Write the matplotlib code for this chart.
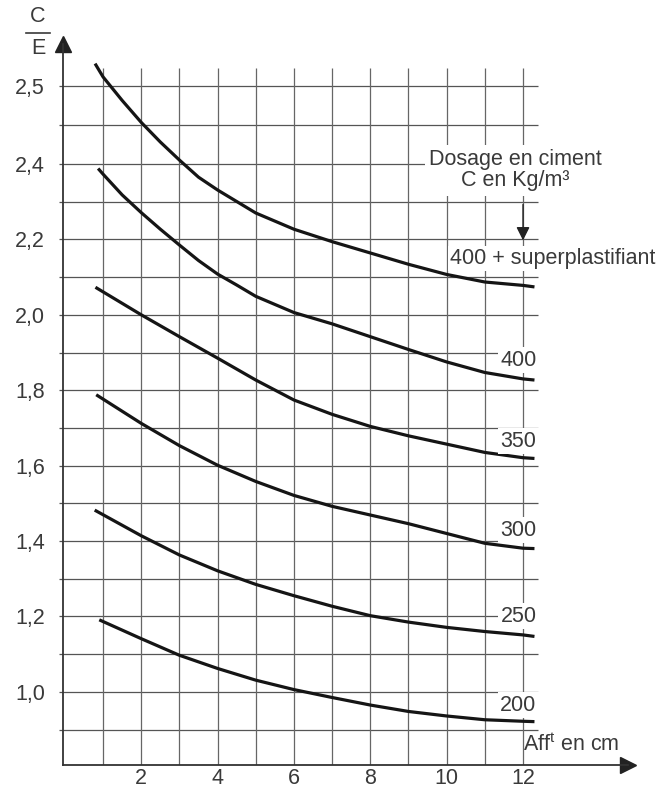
"""Rapport C/E en fonction de l'affaissement, pour plusieurs dosages en ciment"""

import numpy as np
import matplotlib
matplotlib.use("Agg")
import matplotlib.pyplot as plt
from matplotlib.lines import Line2D

# affaissement (cm) et C/E lus sur chaque courbe
x_400sp = [0.79, 1, 1.5, 2, 2.5, 3, 3.5, 4, 5, 6, 7, 8, 9, 10, 11, 12, 12.3]
y_400sp = [2.528, 2.511, 2.481, 2.453, 2.428, 2.405, 2.365, 2.331, 2.27, 2.227,
           2.194, 2.164, 2.134, 2.107, 2.087, 2.078, 2.074]

x_400 = [0.87, 1, 1.5, 2, 2.5, 3, 3.5, 4, 4.5, 5, 6, 7, 8, 9, 10, 11, 12, 12.3]
y_400 = [2.388, 2.373, 2.318, 2.271, 2.227, 2.185, 2.144, 2.108, 2.079, 2.049, 2.006,
         1.976, 1.942, 1.908, 1.875, 1.847, 1.83, 1.827]

x_350 = [0.8, 2, 3, 4, 5, 6, 7, 8, 9, 10, 11, 12, 12.3]
y_350 = [2.073, 2.0, 1.942, 1.885, 1.827, 1.774, 1.736, 1.704, 1.679, 1.657, 1.635, 1.621, 1.619]

x_300 = [0.82, 2, 3, 4, 5, 6, 7, 8, 9, 10, 11, 12, 12.3]
y_300 = [1.788, 1.712, 1.653, 1.601, 1.558, 1.521, 1.492, 1.469, 1.446, 1.42, 1.394, 1.381, 1.38]

x_250 = [0.78, 2, 3, 4, 5, 6, 7, 8, 9, 10, 11, 12, 12.3]
y_250 = [1.482, 1.414, 1.363, 1.321, 1.285, 1.255, 1.227, 1.202, 1.185, 1.171, 1.16, 1.151, 1.147]

x_200 = [0.9, 2, 3, 4, 5, 6, 7, 8, 9, 10, 11, 12, 12.3]
y_200 = [1.191, 1.141, 1.097, 1.062, 1.031, 1.006, 0.985, 0.965, 0.948, 0.936, 0.926, 0.922, 0.921]

curve_labels = ["400", "350", "300", "250", "200"]
label_y = [1.88, 1.665, 1.429, 1.201, 0.965]

x_ticks = [2, 4, 6, 8, 10, 12]
x_grid = [1, 2, 3, 4, 5, 6, 7, 8, 9, 10, 11, 12]
y_ticks = [1.0, 1.2, 1.4, 1.6, 1.8, 2.0, 2.2, 2.4, 2.5]
y_minor = [0.9, 1.1, 1.3, 1.5, 1.7, 1.9, 2.1, 2.3, 2.45]
y_ticklabels = ["1,0", "1,2", "1,4", "1,6", "1,8", "2,0", "2,2", "2,4", "2,5"]

TXT = "#3a3a3a"
GRID = "#555555"
plt.rcParams["font.family"] = ["Liberation Sans", "DejaVu Sans"]
plt.rcParams["font.size"] = 15.5

STRETCH = 2.08  # the original scale is stretched above 2,4


def fwd(v):
    v = np.asarray(v, dtype=float)
    return np.where(v > 2.4, 2.4 + (v - 2.4) * STRETCH, v)


def inv(p):
    p = np.asarray(p, dtype=float)
    return np.where(p > 2.4, 2.4 + (p - 2.4) / STRETCH, p)


def main():
    fig = plt.figure(figsize=(6.64, 7.89), dpi=100)
    ax = fig.add_axes([63 / 664, 24 / 789, (628 - 63) / 664, (765 - 44) / 789])
    ax.set_yscale("function", functions=(fwd, inv))
    ax.set_xlim(-0.05, 14.75)
    ax.set_ylim(0.806, 2.553)

    # grid
    ax.hlines(y_ticks + y_minor, -0.15, 12.4, color=GRID, lw=0.9, clip_on=False, zorder=1)
    ax.vlines(x_grid, 0.806, 2.522, color="#666666", lw=0.9, zorder=1)

    for xs, ys in [(x_400sp, y_400sp), (x_400, y_400), (x_350, y_350),
                   (x_300, y_300), (x_250, y_250), (x_200, y_200)]:
        ax.plot(xs, ys, color="#151515", lw=2.3, solid_capstyle="butt",
                solid_joinstyle="round", zorder=3)

    box = dict(facecolor="white", edgecolor="none", pad=1.5)
    for lab, yy in zip(curve_labels, label_y):
        ax.text(12.35, yy, lab, ha="right", va="center", color=TXT, bbox=box, zorder=4)

    ax.text(11.79, 2.384, "Dosage en ciment\nC en Kg/m³", ha="center", va="center",
            color=TXT, linespacing=1.05, bbox=dict(facecolor="white", edgecolor="none", pad=3),
            zorder=4)
    ax.annotate("", xy=(12, 2.19), xytext=(12, 2.30),
                arrowprops=dict(arrowstyle="-|>", color="#222222", lw=1.0, mutation_scale=20),
                zorder=5)
    ax.text(10.1, 2.15, "400 + superplastifiant", ha="left", va="center", color=TXT,
            bbox=box, zorder=4)
    ax.text(12.0, 0.859, "Aff$^\\mathregular{t}$ en cm", ha="left", va="center", color=TXT)

    # axes with arrows
    for side in ["top", "right"]:
        ax.spines[side].set_visible(False)
    for side in ["left", "bottom"]:
        ax.spines[side].set_color("#333333")
        ax.spines[side].set_linewidth(1.3)
    ax.plot(0, 1, "^", color="#222222", ms=11, transform=ax.transAxes, clip_on=False)
    ax.plot(1, 0, ">", color="#222222", ms=11, transform=ax.transAxes, clip_on=False)

    ax.set_xticks(x_ticks)
    ax.set_xticklabels([str(t) for t in x_ticks])
    ax.tick_params(axis="x", length=0, pad=2, colors=TXT)
    ax.set_yticks(y_ticks)
    ax.set_yticklabels(y_ticklabels)
    ax.set_yticks(y_minor, minor=True)
    ax.tick_params(axis="y", which="both", length=0, pad=13, colors=TXT)

    # C/E as a fraction above the y axis
    fig.text(38 / 664, 1 - 17 / 789, "C", ha="center", va="center", color=TXT)
    fig.text(38 / 664, 1 - 49 / 789, "E", ha="center", va="center", color=TXT)
    fig.add_artist(Line2D([26 / 664, 50 / 664], [1 - 33 / 789, 1 - 33 / 789],
                          color=TXT, lw=1.2, transform=fig.transFigure))

    fig.savefig("out.png", dpi=100)


main()
